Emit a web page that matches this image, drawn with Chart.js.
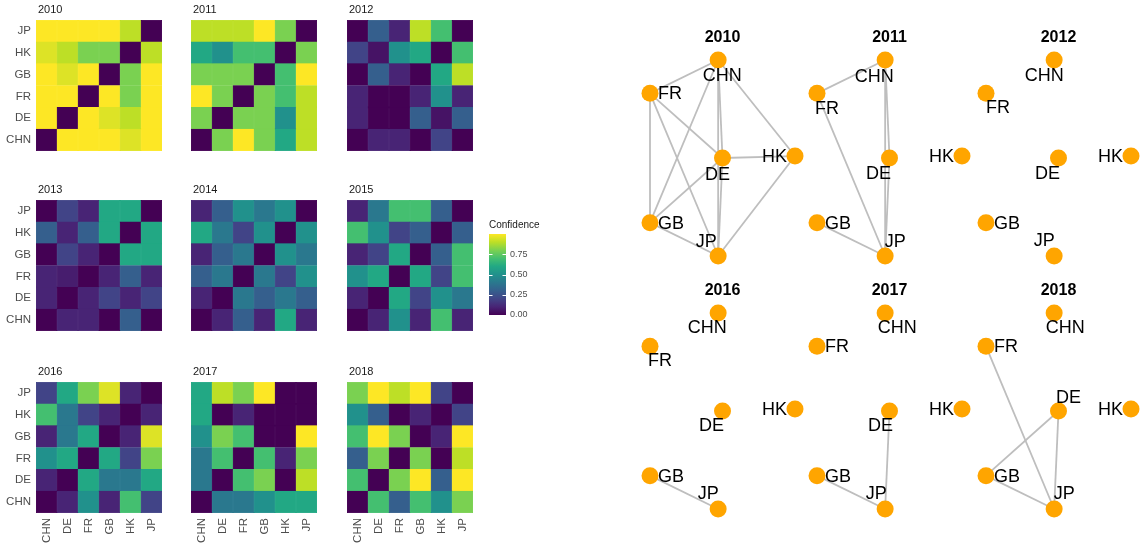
<!DOCTYPE html>
<html>
<head>
<meta charset="utf-8">
<script src="https://cdn.jsdelivr.net/npm/chart.js@4.4.1/dist/chart.umd.min.js"></script>
<style>
  body { margin: 0; background: #fff; width: 1141px; height: 543px; position: relative; overflow: hidden; }
  canvas { position: absolute; }
</style>
</head>
<body>
<script>
// Country codes, bottom-to-top on the heatmap y axis, left-to-right on x
const countries = ['CHN', 'DE', 'FR', 'GB', 'HK', 'JP'];

// Confidence matrices, rows as seen top-to-bottom: JP, HK, GB, FR, DE, CHN
const conf2010 = [
    [1.00, 1.00, 1.00, 1.00, 0.90, 0.00],
    [0.95, 0.90, 0.80, 0.80, 0.00, 0.90],
    [1.00, 0.95, 1.00, 0.00, 0.80, 1.00],
    [1.00, 1.00, 0.00, 1.00, 0.80, 1.00],
    [1.00, 0.00, 1.00, 0.95, 0.90, 1.00],
    [0.00, 1.00, 1.00, 1.00, 0.95, 1.00]
];
const conf2011 = [
    [0.90, 0.90, 0.90, 1.00, 0.80, 0.00],
    [0.60, 0.50, 0.70, 0.70, 0.00, 0.80],
    [0.80, 0.80, 0.80, 0.00, 0.70, 1.00],
    [1.00, 0.80, 0.00, 0.80, 0.70, 0.90],
    [0.80, 0.00, 0.80, 0.80, 0.50, 0.90],
    [0.00, 0.80, 1.00, 0.80, 0.60, 0.90]
];
const conf2012 = [
    [0.00, 0.30, 0.10, 0.90, 0.70, 0.00],
    [0.20, 0.05, 0.50, 0.60, 0.00, 0.70],
    [0.00, 0.30, 0.10, 0.00, 0.60, 0.90],
    [0.10, 0.00, 0.00, 0.10, 0.50, 0.10],
    [0.10, 0.00, 0.00, 0.30, 0.05, 0.30],
    [0.00, 0.10, 0.10, 0.00, 0.20, 0.00]
];
const conf2013 = [
    [0.00, 0.20, 0.10, 0.60, 0.60, 0.00],
    [0.30, 0.10, 0.30, 0.60, 0.00, 0.60],
    [0.00, 0.20, 0.10, 0.00, 0.60, 0.60],
    [0.10, 0.08, 0.00, 0.10, 0.30, 0.10],
    [0.10, 0.00, 0.10, 0.20, 0.10, 0.20],
    [0.00, 0.10, 0.10, 0.00, 0.30, 0.00]
];
const conf2014 = [
    [0.10, 0.30, 0.50, 0.40, 0.50, 0.00],
    [0.60, 0.40, 0.20, 0.50, 0.00, 0.50],
    [0.10, 0.30, 0.40, 0.00, 0.50, 0.40],
    [0.30, 0.40, 0.00, 0.40, 0.20, 0.50],
    [0.10, 0.00, 0.40, 0.30, 0.40, 0.30],
    [0.00, 0.10, 0.30, 0.10, 0.60, 0.10]
];
const conf2015 = [
    [0.10, 0.40, 0.70, 0.70, 0.30, 0.00],
    [0.70, 0.50, 0.20, 0.30, 0.00, 0.30],
    [0.10, 0.20, 0.60, 0.00, 0.30, 0.70],
    [0.50, 0.60, 0.00, 0.60, 0.20, 0.70],
    [0.10, 0.00, 0.60, 0.20, 0.50, 0.40],
    [0.00, 0.10, 0.50, 0.10, 0.70, 0.10]
];
const conf2016 = [
    [0.20, 0.60, 0.80, 0.95, 0.10, 0.00],
    [0.70, 0.40, 0.20, 0.10, 0.00, 0.10],
    [0.10, 0.40, 0.60, 0.00, 0.10, 0.95],
    [0.50, 0.60, 0.00, 0.60, 0.20, 0.80],
    [0.10, 0.00, 0.60, 0.40, 0.40, 0.60],
    [0.00, 0.10, 0.50, 0.10, 0.70, 0.20]
];
const conf2017 = [
    [0.60, 0.90, 0.80, 1.00, 0.00, 0.00],
    [0.60, 0.00, 0.10, 0.00, 0.00, 0.00],
    [0.50, 0.80, 0.70, 0.00, 0.00, 1.00],
    [0.40, 0.70, 0.00, 0.70, 0.10, 0.80],
    [0.40, 0.00, 0.70, 0.80, 0.00, 0.90],
    [0.00, 0.40, 0.40, 0.50, 0.60, 0.60]
];
const conf2018 = [
    [0.80, 1.00, 0.90, 1.00, 0.20, 0.00],
    [0.50, 0.30, 0.00, 0.10, 0.00, 0.20],
    [0.70, 1.00, 0.80, 0.00, 0.10, 1.00],
    [0.30, 0.80, 0.00, 0.80, 0.00, 0.90],
    [0.70, 0.00, 0.80, 1.00, 0.30, 1.00],
    [0.00, 0.70, 0.30, 0.70, 0.50, 0.80]
];

const colorbarTicks = [0, 0.25, 0.5, 0.75];

// Network layout (same for every year), x and y in 0..1
const nodeX = [0.47, 0.50, 0.00, 0.00, 1.00, 0.47];
const nodeY = [1.00, 0.50, 0.83, 0.17, 0.51, 0.00];

const edges2010 = [['CHN','FR'], ['CHN','GB'], ['CHN','DE'], ['CHN','JP'], ['CHN','HK'],
                   ['FR','DE'], ['FR','GB'], ['FR','JP'], ['DE','HK'], ['DE','GB'],
                   ['DE','JP'], ['GB','JP'], ['HK','JP']];
const edges2011 = [['CHN','FR'], ['CHN','DE'], ['CHN','JP'], ['DE','JP'], ['FR','JP'], ['GB','JP']];
const edges2012 = [];
const edges2016 = [['GB','JP']];
const edges2017 = [['GB','JP'], ['DE','JP']];
const edges2018 = [['FR','JP'], ['DE','GB'], ['DE','JP'], ['GB','JP']];

// viridis
const viridisStops = ['#440154', '#482475', '#414487', '#355F8D', '#2A788E', '#21918C',
                      '#22A884', '#44BF70', '#7AD151', '#BDDF26', '#FDE725'];

function hexToRgb(h) {
    return [parseInt(h.slice(1, 3), 16), parseInt(h.slice(3, 5), 16), parseInt(h.slice(5, 7), 16)];
}

function viridis(v) {
    const t = Math.max(0, Math.min(1, v)) * 10;
    const i = Math.min(9, Math.floor(t));
    const f = t - i;
    const a = hexToRgb(viridisStops[i]), b = hexToRgb(viridisStops[i + 1]);
    const c = a.map((x, k) => Math.round(x + (b[k] - x) * f));
    return `rgb(${c[0]},${c[1]},${c[2]})`;
}

const FONT = "'Liberation Sans', Arial, Helvetica, sans-serif";
Chart.defaults.font.family = FONT;
Chart.defaults.animation = false;
Chart.defaults.responsive = false;
Chart.defaults.devicePixelRatio = 1;
Chart.defaults.events = [];
Chart.defaults.plugins.legend.display = false;
Chart.defaults.plugins.tooltip.enabled = false;

function makeCanvas(left, top, w, h) {
    const c = document.createElement('canvas');
    c.width = w; c.height = h;
    c.style.left = left + 'px'; c.style.top = top + 'px';
    c.style.width = w + 'px'; c.style.height = h + 'px';
    document.body.appendChild(c);
    return c;
}

// ---------- heatmaps ----------
const PLOT_W = 126, PLOT_H = 131, AXIS_W = 36, TITLE_H = 20;

function drawHeatmap(year, matrix, plotLeft, plotTop, showY, showX) {
    const xAxisH = showX ? 32 : 0;
    const canvas = makeCanvas(plotLeft - AXIS_W, plotTop - TITLE_H, AXIS_W + PLOT_W + 2, TITLE_H + PLOT_H + xAxisH);

    // one stacked dataset per row, bottom (CHN) to top (JP)
    const datasets = countries.map((name, r) => {
        const row = matrix[countries.length - 1 - r];
        return {
            label: name,
            data: countries.map(() => 1),
            backgroundColor: row.map(viridis),
            borderColor: row.map(viridis),
            borderWidth: 0.5,
            borderSkipped: false,
            barPercentage: 1,
            categoryPercentage: 1
        };
    });

    new Chart(canvas, {
        type: 'bar',
        data: { labels: countries, datasets },
        options: {
            layout: { padding: { top: TITLE_H, right: 2, left: 0, bottom: 0 } },
            scales: {
                x: {
                    stacked: true,
                    display: showX,
                    grid: { display: false, drawTicks: false },
                    border: { display: false },
                    ticks: { color: '#4d4d4d', font: { size: 11.5 }, padding: 5, minRotation: 90, maxRotation: 90 },
                    afterFit: s => { s.height = xAxisH; s.paddingLeft = 0; s.paddingRight = 0; }
                },
                y: {
                    stacked: true,
                    min: 0,
                    max: countries.length,
                    grid: { display: false, drawTicks: false },
                    border: { display: false },
                    afterBuildTicks: s => { s.ticks = countries.map((n, i) => ({ value: i + 0.5 })); },
                    ticks: {
                        display: showY,
                        color: '#4d4d4d',
                        font: { size: 11.5 },
                        padding: 5,
                        callback: v => countries[Math.floor(v)]
                    },
                    afterFit: s => { s.width = AXIS_W; s.paddingTop = 0; s.paddingBottom = 0; }
                }
            }
        },
        plugins: [{
            id: 'panelTitle',
            afterDraw(chart) {
                const ctx = chart.ctx;
                ctx.save();
                ctx.fillStyle = '#1a1a1a';
                ctx.font = `11px ${FONT}`;
                ctx.textBaseline = 'alphabetic';
                ctx.fillText(year, chart.chartArea.left + 2, 13);
                ctx.restore();
            }
        }]
    });
}

const colLefts = [36, 191, 347];
const rowTops = [20, 200, 382];
const heatmaps = [
    ['2010', conf2010], ['2011', conf2011], ['2012', conf2012],
    ['2013', conf2013], ['2014', conf2014], ['2015', conf2015],
    ['2016', conf2016], ['2017', conf2017], ['2018', conf2018]
];
heatmaps.forEach(([year, m], i) => {
    const col = i % 3, row = Math.floor(i / 3);
    drawHeatmap(year, m, colLefts[col], rowTops[row], col === 0, row === 2);
});

// ---------- colour bar ----------
(function drawColorbar() {
    const canvas = makeCanvas(480, 215, 80, 110);
    new Chart(canvas, {
        type: 'bar',
        data: {
            labels: [''],
            datasets: [{
                data: [1],
                barPercentage: 1,
                categoryPercentage: 1,
                backgroundColor: c => {
                    const a = c.chart.chartArea;
                    if (!a) return viridisStops[5];
                    const g = c.chart.ctx.createLinearGradient(0, a.bottom, 0, a.top);
                    viridisStops.forEach((col, i) => g.addColorStop(i / 10, col));
                    return g;
                }
            }]
        },
        options: {
            layout: { padding: { left: 9, top: 19, bottom: 10, right: 0 } },
            scales: {
                x: { display: false },
                y: {
                    position: 'right',
                    min: 0,
                    max: 1,
                    grid: { display: false, drawTicks: false },
                    border: { display: false },
                    afterBuildTicks: s => { s.ticks = colorbarTicks.map(v => ({ value: v })); },
                    ticks: { color: '#4d4d4d', font: { size: 9 }, padding: 4, callback: v => v.toFixed(2) },
                    afterFit: s => { s.width = 54; s.paddingTop = 0; s.paddingBottom = 0; }
                }
            }
        },
        plugins: [{
            id: 'barDecor',
            afterDraw(chart) {
                const ctx = chart.ctx, a = chart.chartArea, ys = chart.scales.y;
                ctx.save();
                ctx.strokeStyle = '#ffffff';
                ctx.lineWidth = 1;
                colorbarTicks.forEach(v => {
                    const y = Math.round(ys.getPixelForValue(v)) + 0.5;
                    ctx.beginPath();
                    ctx.moveTo(a.left, y); ctx.lineTo(a.left + 3.5, y);
                    ctx.moveTo(a.right - 3.5, y); ctx.lineTo(a.right, y);
                    ctx.stroke();
                });
                ctx.fillStyle = '#1a1a1a';
                ctx.font = `10px ${FONT}`;
                ctx.fillText('Confidence', a.left, 13);
                ctx.restore();
            }
        }]
    });
})();

// ---------- networks ----------
const NET_W = 145, NET_H = 196;
// label placement (like ggrepel output): [dx, dy, align] relative to the node
const labels2010 = { CHN: [4, 15, 'center'], FR: [8, 0, 'left'], DE: [-5, 16, 'center'], HK: [-8, 0, 'right'], GB: [8, 0, 'left'], JP: [-12, -15, 'center'] };
const labels2011 = { CHN: [-11, 16, 'center'], FR: [10, 15, 'center'], DE: [-11, 15, 'center'], HK: [-8, 0, 'right'], GB: [8, 0, 'left'], JP: [10, -15, 'center'] };
const labels2012 = { CHN: [-10, 15, 'center'], FR: [12, 14, 'center'], DE: [-11, 15, 'center'], HK: [-8, 0, 'right'], GB: [8, 0, 'left'], JP: [-10, -16, 'center'] };
const labels2016 = { CHN: [-11, 14, 'center'], FR: [10, 14, 'center'], DE: [-11, 14, 'center'], HK: [-8, 0, 'right'], GB: [8, 0, 'left'], JP: [-10, -16, 'center'] };
const labels2017 = { CHN: [12, 14, 'center'], FR: [8, 0, 'left'], DE: [-9, 14, 'center'], HK: [-8, 0, 'right'], GB: [8, 0, 'left'], JP: [-9, -16, 'center'] };
const labels2018 = { CHN: [11, 14, 'center'], FR: [8, 0, 'left'], DE: [10, -14, 'center'], HK: [-8, 0, 'right'], GB: [8, 0, 'left'], JP: [10, -16, 'center'] };

function nodePoint(name) {
    const i = countries.indexOf(name);
    return { x: nodeX[i], y: nodeY[i] };
}

function drawNetwork(year, edges, labelPos, areaLeft, areaTop) {
    const padL = 30, padR = 30, padT = 40, padB = 20;
    const canvas = makeCanvas(areaLeft - padL, areaTop - padT, NET_W + padL + padR, NET_H + padT + padB);

    const datasets = [{
        data: countries.map(nodePoint),
        pointRadius: 8.5,
        pointBackgroundColor: '#FFA500',
        pointBorderWidth: 0,
        showLine: false,
        clip: false
    }].concat(edges.map(e => ({
        data: [nodePoint(e[0]), nodePoint(e[1])],
        showLine: true,
        borderColor: '#BEBEBE',
        borderWidth: 1.8,
        pointRadius: 0,
        clip: false
    })));

    new Chart(canvas, {
        type: 'scatter',
        data: { datasets },
        options: {
            layout: { padding: { left: padL, right: padR, top: padT, bottom: padB } },
            scales: {
                x: { type: 'linear', min: 0, max: 1, display: false },
                y: { type: 'linear', min: 0, max: 1, display: false }
            }
        },
        plugins: [{
            id: 'netText',
            afterDatasetsDraw(chart) {
                const ctx = chart.ctx, a = chart.chartArea;
                const xs = chart.scales.x, ys = chart.scales.y;
                ctx.save();
                ctx.fillStyle = '#000';
                ctx.font = `bold 16px ${FONT}`;
                ctx.textAlign = 'center';
                ctx.textBaseline = 'middle';
                ctx.fillText(year, (a.left + a.right) / 2, a.top - 22);
                ctx.font = `18px ${FONT}`;
                countries.forEach((name, i) => {
                    const [dx, dy, align] = labelPos[name];
                    ctx.textAlign = align;
                    ctx.fillText(name, xs.getPixelForValue(nodeX[i]) + dx, ys.getPixelForValue(nodeY[i]) + dy + 1);
                });
                ctx.restore();
            }
        }]
    });
}

const netLefts = [650, 817, 986];
const netTops = [60, 313];
const networks = [
    ['2010', edges2010, labels2010], ['2011', edges2011, labels2011], ['2012', edges2012, labels2012],
    ['2016', edges2016, labels2016], ['2017', edges2017, labels2017], ['2018', edges2018, labels2018]
];
networks.forEach(([year, e, l], i) => {
    drawNetwork(year, e, l, netLefts[i % 3], netTops[Math.floor(i / 3)]);
});
</script>
</body>
</html>
